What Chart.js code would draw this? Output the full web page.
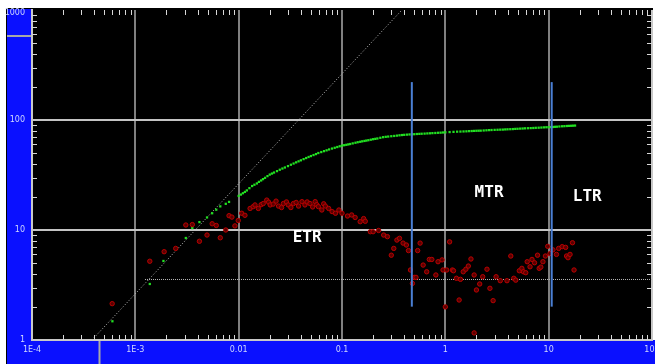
<!DOCTYPE html>
<html>
<head>
<meta charset="UTF-8">
<title>Log-log diagnostic plot</title>
<script src="https://cdn.jsdelivr.net/npm/chart.js@4/dist/chart.umd.min.js"></script>
<style>
  body { margin: 0; background: #fff; }
  canvas { display: block; }
</style>
</head>
<body>
<canvas id="myChart" width="655" height="364"></canvas>
<script>
// pressure change (green)
const greenX = [6.0e-4, 1.38e-3, 1.87e-3, 2.46e-3, 3.08e-3, 3.56e-3, 4.17e-3, 4.94e-3, 5.54e-3, 6.07e-3, 6.64e-3, 7.5e-3, 8.07e-3,
  0.010, 0.0105, 0.011, 0.0115, 0.012, 0.0127, 0.0135, 0.0142, 0.015, 0.0157, 0.0165, 0.0172, 0.018, 0.019, 0.020, 0.021, 0.022, 0.0235,
  0.025, 0.0265, 0.028, 0.030, 0.032, 0.034, 0.036, 0.038, 0.040, 0.0425, 0.045, 0.0475, 0.050, 0.053, 0.056, 0.059, 0.063, 0.067,
  0.071, 0.075, 0.080, 0.085, 0.090, 0.095,
  0.10, 0.105, 0.11, 0.115, 0.12, 0.127, 0.135, 0.142, 0.15, 0.157, 0.165, 0.172, 0.18, 0.19, 0.20, 0.21, 0.22, 0.235,
  0.25, 0.265, 0.28, 0.30, 0.32, 0.34, 0.36, 0.38, 0.40, 0.425, 0.45, 0.475, 0.50, 0.53, 0.56, 0.59, 0.63, 0.67,
  0.71, 0.75, 0.80, 0.85, 0.90, 0.95,
  1.0, 1.1, 1.2, 1.3, 1.4, 1.5, 1.6, 1.7, 1.8, 1.9, 2.0, 2.1, 2.2, 2.35, 2.5, 2.65, 2.8, 3.0, 3.2,
  3.4, 3.6, 3.8, 4.0, 4.25, 4.5, 4.75, 5.0, 5.3, 5.6, 5.9, 6.3, 6.7, 7.1, 7.5, 8.0, 8.5, 9.0, 9.5,
  10, 10.5, 11, 11.5, 12, 12.7, 13.5, 14.2, 15, 15.7, 16.5, 17.2, 18];
const greenY = [1.48, 3.23, 5.23, 6.82, 8.46, 10.4, 11.8, 13.0, 14.2, 15.3, 16.4, 17.3, 18.0,
  20.4, 21.0, 21.6, 22.2, 22.9, 24.0, 25.1, 25.8, 26.5, 27.4, 28.2, 29.0, 29.8, 30.9, 31.9, 32.6, 33.3, 34.3,
  35.3, 36.2, 37.0, 38.1, 39.2, 40.2, 41.2, 42.1, 43.0, 44.1, 45.1, 46.1, 47.0, 48.0, 49.0, 50.1, 51.1, 52.1,
  53.0, 54.0, 55.0, 55.9, 56.8, 57.7,
  58.5, 59.0, 59.5, 60.0, 60.5, 61.3, 62.1, 62.8, 63.4, 64.0, 64.5, 65.0, 65.5, 66.2, 66.9, 67.4, 67.9, 68.9,
  69.8, 70.3, 70.7, 71.2, 71.6, 72.1, 72.6, 73.0, 73.3, 73.6, 73.9, 74.1, 74.3, 74.6, 74.8, 75.0, 75.2, 75.5,
  75.7, 76.0, 76.2, 76.5, 76.7, 77.0,
  77.3, 77.7, 78.0, 78.3, 78.5, 78.7, 78.9, 79.2, 79.4, 79.6, 79.8, 79.9, 80.0, 80.3, 80.6, 80.9, 81.1, 81.3, 81.5,
  81.7, 81.8, 82.1, 82.3, 82.5, 82.7, 83.0, 83.2, 83.5, 83.7, 84.0, 84.2, 84.4, 84.6, 84.9, 85.1, 85.4, 85.7, 85.9,
  86.0, 86.2, 86.4, 86.7, 86.9, 87.3, 87.7, 87.9, 88.2, 88.4, 88.6, 88.8, 89.0];

// derivative (red)
const redX = [5.97e-4, 1.38e-3, 1.90e-3, 2.46e-3, 3.08e-3, 3.56e-3, 4.17e-3, 4.94e-3, 5.54e-3, 6.07e-3, 6.64e-3, 7.5e-3, 8.07e-3, 8.6e-3, 9.2e-3, 0.0099,
  0.0107, 0.0115, 0.0129, 0.0138, 0.0144, 0.0155, 0.0165, 0.0173, 0.0187, 0.0195, 0.0202, 0.0216, 0.023, 0.0243, 0.026, 0.0271, 0.029, 0.0302, 0.032,
  0.0339, 0.036, 0.038, 0.041, 0.0438, 0.046, 0.049, 0.052, 0.055, 0.057, 0.0591, 0.0638, 0.0665, 0.069, 0.0743, 0.0802, 0.0865, 0.0933, 0.100,
  0.113, 0.124, 0.134, 0.15, 0.162, 0.168, 0.188, 0.20, 0.226, 0.253, 0.275, 0.30, 0.317, 0.34, 0.36, 0.39, 0.42, 0.44, 0.46, 0.48, 0.50, 0.52,
  0.54, 0.57, 0.61, 0.66, 0.70, 0.74, 0.81, 0.85, 0.93, 0.95, 1.0, 1.03, 1.1, 1.17, 1.2, 1.28, 1.36, 1.4, 1.49, 1.58, 1.67, 1.77, 1.9, 1.9,
  2.0, 2.15, 2.3, 2.53, 2.7, 2.9, 3.1, 3.4, 3.95, 4.3, 4.6, 4.8, 5.2, 5.5, 5.7, 6.0, 6.2, 6.6, 6.9, 7.3, 7.8, 8.1, 8.4, 8.8, 9.3, 9.8,
  10.3, 11.0, 11.9, 12.5, 13.5, 14.6, 14.9, 15.4, 16.1, 17.0, 17.6];
const redY = [2.14, 5.2, 6.35, 6.8, 11.1, 11.2, 7.9, 9.0, 11.4, 11.0, 8.5, 10.0, 13.5, 13.1, 10.9, 12.2,
  14.2, 13.6, 15.7, 16.3, 16.9, 15.7, 17.0, 17.4, 18.7, 17.9, 16.9, 17.2, 18.3, 16.5, 16.0, 17.4, 18.0, 16.9, 16.0,
  17.4, 17.8, 16.5, 18.1, 16.9, 18.0, 17.4, 16.2, 18.1, 17.0, 16.3, 15.2, 17.3, 16.5, 15.7, 14.7, 14.2, 15.2, 14.2,
  13.4, 13.7, 13.0, 11.9, 12.7, 12.0, 9.65, 9.65, 9.9, 9.0, 8.7, 5.9, 6.8, 8.1, 8.4, 7.6, 7.3, 6.5, 4.33, 3.27, 3.71, 3.71,
  6.5, 7.6, 4.8, 4.17, 5.4, 5.4, 3.9, 5.15, 5.35, 4.33, 2.0, 4.33, 7.8, 4.33, 4.26, 3.64, 2.31, 3.56, 4.17, 4.4, 4.7, 5.45, 3.9, 1.16,
  2.85, 3.23, 3.76, 4.4, 2.95, 2.28, 3.76, 3.46, 3.46, 5.8, 3.64, 3.5, 4.26, 4.48, 4.17, 4.09, 5.15, 4.63, 5.4, 5.04, 5.9, 4.48, 4.6, 5.15, 5.8, 7.1,
  6.1, 6.6, 6.0, 6.8, 7.06, 6.95, 5.8, 5.6, 6.0, 7.66, 4.33];

// straight reference lines
const slopeX = [3.8e-4, 0.38];
const slopeY = [1, 1000];
const stabX = [1.24e-3, 100];
const stabY = [3.55, 3.55];

// flow regime boundaries
const boundX = [0.474, 10.7];
const boundY = [2.01, 221];

const regionNames = ['ETR', 'MTR', 'LTR'];
const regionX = [0.046, 2.65, 23.6];
const regionY = [8.46, 21.7, 19.9];

const xTicks = [1e-4, 1e-3, 0.01, 0.1, 1, 10, 100];
const xTickLabels = ['1E-4', '1E-3', '0.01', '0.1', '1', '10', '100'];
const yTicks = [1, 10, 100, 1000];
const yTickLabels = ['1', '10', '100', '1000'];

// scroll markers in the blue frame
const markX = 4.5e-4;
const markY = 580;

const zip = (xs, ys) => xs.map((x, i) => ({ x: x, y: ys[i] }));

const frame = {
  id: 'frame',
  beforeDraw(chart) {
    const c = chart.ctx, a = chart.chartArea;
    const xs = chart.scales.x, ys = chart.scales.y;
    c.save();
    c.fillStyle = '#fff';
    c.fillRect(0, 0, chart.width, chart.height);
    c.fillStyle = '#000';
    c.fillRect(6, 8, chart.width - 6, chart.height - 8);
    c.fillStyle = '#0a10ff';
    c.fillRect(7, 9, a.left - 7, chart.height - 9);
    c.fillRect(7, a.bottom, chart.width - 7, chart.height - a.bottom);
    c.fillStyle = '#fff';
    c.fillRect(a.right + 1, 0, chart.width - a.right, a.bottom);
    c.fillStyle = '#000';
    c.fillRect(a.left, 8, a.right - a.left, a.bottom - 8);
    c.strokeStyle = '#a8a8a8';
    c.lineWidth = 2;
    const my = ys.getPixelForValue(markY);
    c.beginPath(); c.moveTo(7, my); c.lineTo(a.left, my); c.stroke();
    const mx = xs.getPixelForValue(markX);
    c.beginPath(); c.moveTo(mx, a.bottom); c.lineTo(mx, chart.height); c.stroke();
    c.restore();
  },
  afterDraw(chart) {
    const c = chart.ctx, a = chart.chartArea;
    const xs = chart.scales.x, ys = chart.scales.y;
    c.save();
    // minor ticks on all four edges
    c.strokeStyle = '#d8d8d8';
    c.lineWidth = 1;
    c.beginPath();
    for (let d = 1e-4; d < 100; d *= 10) {
      for (let m = 2; m <= 9; m++) {
        const px = Math.round(xs.getPixelForValue(d * m)) + 0.5;
        c.moveTo(px, a.bottom); c.lineTo(px, a.bottom - 5);
        c.moveTo(px, a.top); c.lineTo(px, a.top + 5);
      }
    }
    for (let d = 1; d < 1000; d *= 10) {
      for (let m = 2; m <= 9; m++) {
        const py = Math.round(ys.getPixelForValue(d * m)) + 0.5;
        c.moveTo(a.left, py); c.lineTo(a.left + 5, py);
        c.moveTo(a.right, py); c.lineTo(a.right - 5, py);
      }
    }
    c.stroke();
    // axis labels in the blue frame
    c.fillStyle = '#d0d8ff';
    c.font = '8px "DejaVu Sans"';
    c.textBaseline = 'middle';
    c.textAlign = 'center';
    xTicks.forEach((v, i) => c.fillText(xTickLabels[i], xs.getPixelForValue(v), a.bottom + 10));
    c.textAlign = 'right';
    yTicks.forEach((v, i) => c.fillText(yTickLabels[i], a.left - 7, Math.max(ys.getPixelForValue(v), a.top + 3)));
    // regime labels
    c.fillStyle = '#fff';
    c.font = 'bold 16px "DejaVu Sans Mono"';
    c.textAlign = 'center';
    regionNames.forEach((t, i) => {
      c.fillText(t, xs.getPixelForValue(regionX[i]), ys.getPixelForValue(regionY[i]));
    });
    c.restore();
  }
};

const ctx = document.getElementById('myChart').getContext('2d');
new Chart(ctx, {
  type: 'scatter',
  data: {
    datasets: [
      { data: zip([boundX[0], boundX[0]], boundY), showLine: true, borderColor: '#4a7fd4', borderWidth: 2, pointRadius: 0 },
      { data: zip([boundX[1], boundX[1]], boundY), showLine: true, borderColor: '#4a7fd4', borderWidth: 2, pointRadius: 0 },
      { data: zip(redX, redY), pointStyle: 'circle', pointRadius: 2.2, borderWidth: 1,
        borderColor: '#b80000', backgroundColor: '#5a0000' },
      { data: zip(greenX, greenY), pointStyle: 'rect', pointRadius: 1.6, borderWidth: 0,
        backgroundColor: '#22e022', borderColor: '#22e022' },
      { data: zip(slopeX, slopeY), showLine: true, borderColor: '#c0c0c0', borderWidth: 1, borderDash: [1, 2], pointRadius: 0 },
      { data: zip(stabX, stabY), showLine: true, borderColor: '#b8b8b8', borderWidth: 1, borderDash: [1, 1], pointRadius: 0 }
    ]
  },
  options: {
    responsive: false,
    animation: false,
    layout: { autoPadding: false, padding: { left: 7, top: 10, right: 3, bottom: 0 } },
    plugins: { legend: { display: false }, tooltip: { enabled: false } },
    scales: {
      x: {
        type: 'logarithmic',
        min: 1e-4, max: 100,
        afterBuildTicks: s => { s.ticks = xTicks.map(v => ({ value: v })); },
        afterFit: s => { s.height = 24; },
        ticks: { display: false },
        grid: {
          drawTicks: false, lineWidth: 2,
          color: c => c.index === 0 ? 'rgba(0,0,0,0)' : (c.index === xTicks.length - 1 ? '#c8c8c8' : '#808080')
        },
        border: { color: '#c8c8c8', width: 2 }
      },
      y: {
        type: 'logarithmic',
        min: 1, max: 1000,
        afterBuildTicks: s => { s.ticks = yTicks.map(v => ({ value: v })); },
        afterFit: s => { s.width = 25; },
        ticks: { display: false },
        grid: {
          drawTicks: false, lineWidth: 2,
          color: c => (c.index === 0 || c.index === yTicks.length - 1) ? 'rgba(0,0,0,0)' : '#c4c4c4'
        },
        border: { color: '#c8c8c8', width: 2 }
      }
    }
  },
  plugins: [frame]
});
</script>
</body>
</html>
